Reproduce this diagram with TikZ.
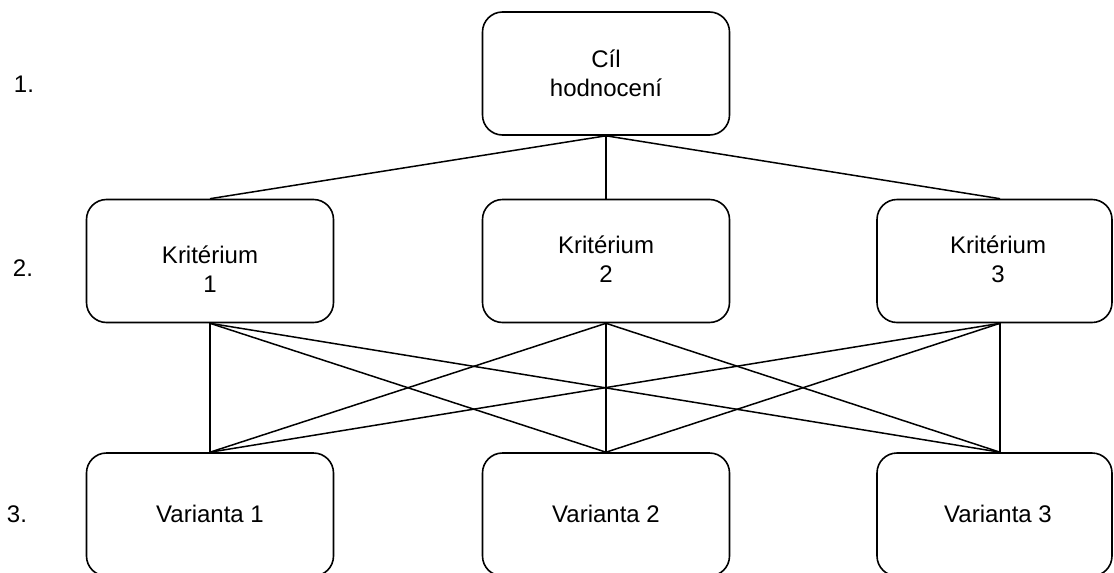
\documentclass[tikz,border=0pt]{standalone}
\usepackage{fontspec}
\setmainfont{Liberation Sans}
\begin{document}
\begin{tikzpicture}[x=1pt,y=-1pt,
  box/.style={draw=black, line width=1.6pt, rounded corners=20pt, minimum height=123pt,
    inner sep=0pt, align=center, font=\fontsize{24}{28.8}\selectfont, text=black},
  wbox/.style={box, minimum width=247pt},
  nbox/.style={box, minimum width=235pt},
  lbl/.style={font=\fontsize{24}{28.8}\selectfont, inner sep=0pt, text=black, align=center},
  conn/.style={draw=black, line width=1.5pt}]
\useasboundingbox (0,0) rectangle (1114,573);
\clip (0,0) rectangle (1114,573);
% levels
\node[lbl] (l1) at (24,84) {1.};
\node[lbl] (l2) at (23,268) {2.};
\node[lbl] (l3) at (17,514) {3.};
% goal
\node[wbox] (t) at (606,73.5) {C\'il\\hodnocen\'i};
% criteria
\node[wbox] (k1) at (210,261) {};
\node[lbl] (k1t) at (210,269) {Krit\'erium\\1};
\node[wbox] (k2) at (606,261) {};
\node[lbl] (k2t) at (606,259) {Krit\'erium\\2};
\node[nbox] (k3) at (994.5,261) {};
\node[lbl] (k3t) at (998,259) {Krit\'erium\\3};
% variants
\node[wbox] (v1) at (210,514.5) {};
\node[lbl] (v1t) at (210,514) {Varianta 1};
\node[wbox] (v2) at (606,514.5) {};
\node[lbl] (v2t) at (606,514) {Varianta 2};
\node[nbox] (v3) at (994.5,514.5) {};
\node[lbl] (v3t) at (998,514) {Varianta 3};
% connectors goal -> criteria
\draw[conn] (t.south) -- (k1.north);
\draw[conn] (t.south) -- (k2.north);
\draw[conn] (t.south) -- ([xshift=5.5pt]k3.north);
% criteria -> variants
\foreach \k/\ks in {k1/0pt,k2/0pt,k3/5.5pt}{
  \draw[conn] ([xshift=\ks]\k.south) -- (v1.north);
  \draw[conn] ([xshift=\ks]\k.south) -- (v2.north);
  \draw[conn] ([xshift=\ks]\k.south) -- ([xshift=5.5pt]v3.north);
}
\end{tikzpicture}
\end{document}
